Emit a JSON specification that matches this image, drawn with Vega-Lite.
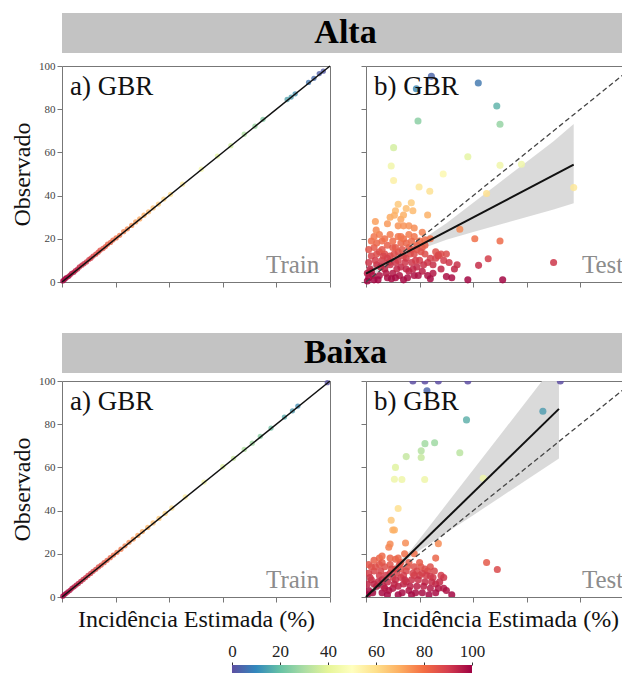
{
  "$schema": "https://vega.github.io/schema/vega-lite/v6.json",
  "padding": {"left": 10, "top": 13, "right": 0, "bottom": 0},
  "config": {
    "font": "Liberation Serif",
    "view": {"stroke": "#777", "strokeWidth": 1},
    "axis": {"grid": false, "domain": false, "tickColor": "#777", "tickSize": 5, "labelColor": "#444", "labelFontSize": 11, "labelPadding": 2, "titleFontWeight": "normal", "titleFontSize": 24, "titleColor": "#111"}
  },
  "datasets": {
    "idt": [{"Estimado": 0, "Observado": 0}, {"Estimado": 100, "Observado": 100}],
    "regA": [{"Estimado": 0, "Observado": 3.9}, {"Estimado": 77.5, "Observado": 54.3}],
    "regB": [{"Estimado": 0, "Observado": 0}, {"Estimado": 72, "Observado": 87.1}],
    "bandA": [
      {"Estimado": 0, "Observado": 1.4, "Superior": 6.4},
      {"Estimado": 10, "Observado": 8.6, "Superior": 12.2},
      {"Estimado": 18, "Observado": 14.1, "Superior": 17.1},
      {"Estimado": 30, "Observado": 19.6, "Superior": 27.2},
      {"Estimado": 40, "Observado": 23.1, "Superior": 36.7},
      {"Estimado": 50, "Observado": 26.6, "Superior": 46.2},
      {"Estimado": 60, "Observado": 30.1, "Superior": 55.7},
      {"Estimado": 70, "Observado": 33.6, "Superior": 65.2},
      {"Estimado": 77.5, "Observado": 36.5, "Superior": 73.2}
    ],
    "bandB": [
      {"Estimado": 0, "Observado": -2.5, "Superior": 2.5},
      {"Estimado": 10, "Observado": 10.3, "Superior": 13.9},
      {"Estimado": 17, "Observado": 19.1, "Superior": 22.1},
      {"Estimado": 30, "Observado": 29.7, "Superior": 42.9},
      {"Estimado": 40, "Observado": 37.9, "Superior": 58.9},
      {"Estimado": 50, "Observado": 46.1, "Superior": 74.9},
      {"Estimado": 60, "Observado": 54.3, "Superior": 90.9},
      {"Estimado": 72, "Observado": 64.1, "Superior": 110.1}
    ],
    "trA": [
      {"Estimado": 0.3, "Observado": 0.5}, {"Estimado": 0.8, "Observado": 1}, {"Estimado": 1.2, "Observado": 1.5}, {"Estimado": 1.6, "Observado": 2}, {"Estimado": 2.4, "Observado": 2.5}, {"Estimado": 3, "Observado": 3.2}, {"Estimado": 3.6, "Observado": 4}, {"Estimado": 4.4, "Observado": 4.5}, {"Estimado": 5, "Observado": 5.3}, {"Estimado": 5.8, "Observado": 6}, {"Estimado": 6.5, "Observado": 7}, {"Estimado": 7.4, "Observado": 7.8}, {"Estimado": 8.2, "Observado": 8.5}, {"Estimado": 9.1, "Observado": 9.3}, {"Estimado": 10, "Observado": 10.4}, {"Estimado": 10.8, "Observado": 11}, {"Estimado": 11.6, "Observado": 12}, {"Estimado": 12.6, "Observado": 12.9}, {"Estimado": 13.5, "Observado": 13.8}, {"Estimado": 14.2, "Observado": 14.7}, {"Estimado": 15.3, "Observado": 15.5}, {"Estimado": 16.2, "Observado": 16.4}, {"Estimado": 17, "Observado": 17.5}, {"Estimado": 18.1, "Observado": 18.3}, {"Estimado": 19, "Observado": 19.4}, {"Estimado": 20.2, "Observado": 20.4}, {"Estimado": 21.5, "Observado": 21.6}, {"Estimado": 23, "Observado": 23.3}, {"Estimado": 24.4, "Observado": 24.6}, {"Estimado": 26, "Observado": 26.2}, {"Estimado": 27.5, "Observado": 27.8}, {"Estimado": 29, "Observado": 29.2}, {"Estimado": 30.6, "Observado": 30.9}, {"Estimado": 32.3, "Observado": 32.5}, {"Estimado": 34, "Observado": 34.3}, {"Estimado": 36, "Observado": 36.1}, {"Estimado": 38, "Observado": 38.4}, {"Estimado": 40.5, "Observado": 40.6}, {"Estimado": 45, "Observado": 45.3}, {"Estimado": 52, "Observado": 52.2}, {"Estimado": 58, "Observado": 58.3}, {"Estimado": 63, "Observado": 63.1}, {"Estimado": 68, "Observado": 68.4}, {"Estimado": 72, "Observado": 72.1}, {"Estimado": 75, "Observado": 75.3}, {"Estimado": 84, "Observado": 84.5}, {"Estimado": 85.5, "Observado": 85.6}, {"Estimado": 87, "Observado": 87.1}, {"Estimado": 92, "Observado": 92.4}, {"Estimado": 94, "Observado": 94.3}, {"Estimado": 96, "Observado": 96.5}, {"Estimado": 97.5, "Observado": 97.6}
    ],
    "trB": [
      {"Estimado": 0.3, "Observado": 0.4}, {"Estimado": 0.9, "Observado": 1.1}, {"Estimado": 1.5, "Observado": 1.7}, {"Estimado": 2.2, "Observado": 2.4}, {"Estimado": 3, "Observado": 3.1}, {"Estimado": 3.7, "Observado": 4}, {"Estimado": 4.5, "Observado": 4.7}, {"Estimado": 5.3, "Observado": 5.5}, {"Estimado": 6.1, "Observado": 6.3}, {"Estimado": 7, "Observado": 7.2}, {"Estimado": 7.9, "Observado": 8.1}, {"Estimado": 8.8, "Observado": 9}, {"Estimado": 9.7, "Observado": 10}, {"Estimado": 10.7, "Observado": 10.9}, {"Estimado": 11.6, "Observado": 11.9}, {"Estimado": 12.6, "Observado": 12.8}, {"Estimado": 13.6, "Observado": 13.9}, {"Estimado": 14.6, "Observado": 14.8}, {"Estimado": 15.7, "Observado": 15.9}, {"Estimado": 16.8, "Observado": 17}, {"Estimado": 18, "Observado": 18.2}, {"Estimado": 19.2, "Observado": 19.4}, {"Estimado": 20.5, "Observado": 20.7}, {"Estimado": 22, "Observado": 22.1}, {"Estimado": 23.5, "Observado": 23.7}, {"Estimado": 25, "Observado": 25.3}, {"Estimado": 26.6, "Observado": 26.8}, {"Estimado": 28.3, "Observado": 28.5}, {"Estimado": 30, "Observado": 30.3}, {"Estimado": 32, "Observado": 32.2}, {"Estimado": 34, "Observado": 34.3}, {"Estimado": 36.2, "Observado": 36.4}, {"Estimado": 38.5, "Observado": 38.7}, {"Estimado": 41, "Observado": 41.2}, {"Estimado": 46, "Observado": 46.3}, {"Estimado": 53, "Observado": 53.2}, {"Estimado": 60, "Observado": 60.3}, {"Estimado": 64, "Observado": 64.2}, {"Estimado": 68, "Observado": 68.3}, {"Estimado": 71, "Observado": 71.2}, {"Estimado": 74, "Observado": 74.4}, {"Estimado": 78, "Observado": 78.2}, {"Estimado": 83, "Observado": 83.3}, {"Estimado": 86, "Observado": 86.2}, {"Estimado": 88, "Observado": 88.4}, {"Estimado": 99, "Observado": 99.2}
    ],
    "teA": [
      {"Estimado": 1, "Observado": 2}, {"Estimado": 2, "Observado": 5}, {"Estimado": 3, "Observado": 1}, {"Estimado": 4, "Observado": 8}, {"Estimado": 5, "Observado": 3}, {"Estimado": 6, "Observado": 10}, {"Estimado": 7, "Observado": 6}, {"Estimado": 8, "Observado": 2}, {"Estimado": 9, "Observado": 12}, {"Estimado": 10, "Observado": 4}, {"Estimado": 11, "Observado": 9}, {"Estimado": 12, "Observado": 14}, {"Estimado": 13, "Observado": 7}, {"Estimado": 14, "Observado": 1}, {"Estimado": 15, "Observado": 11}, {"Estimado": 16, "Observado": 5}, {"Estimado": 17, "Observado": 15}, {"Estimado": 18, "Observado": 3}, {"Estimado": 2, "Observado": 12}, {"Estimado": 3, "Observado": 16}, {"Estimado": 4, "Observado": 18}, {"Estimado": 5, "Observado": 14}, {"Estimado": 6, "Observado": 19}, {"Estimado": 7, "Observado": 13}, {"Estimado": 8, "Observado": 17}, {"Estimado": 9, "Observado": 8}, {"Estimado": 10, "Observado": 16}, {"Estimado": 11, "Observado": 2}, {"Estimado": 12, "Observado": 10}, {"Estimado": 13, "Observado": 18}, {"Estimado": 14, "Observado": 12}, {"Estimado": 15, "Observado": 6}, {"Estimado": 16, "Observado": 16}, {"Estimado": 17, "Observado": 9}, {"Estimado": 18, "Observado": 13}, {"Estimado": 19, "Observado": 7}, {"Estimado": 1, "Observado": 9}, {"Estimado": 0.5, "Observado": 4}, {"Estimado": 20, "Observado": 10}, {"Estimado": 21, "Observado": 5}, {"Estimado": 22, "Observado": 13}, {"Estimado": 23, "Observado": 3}, {"Estimado": 24, "Observado": 11}, {"Estimado": 25, "Observado": 8}, {"Estimado": 26, "Observado": 14}, {"Estimado": 27, "Observado": 12}, {"Estimado": 28, "Observado": 6}, {"Estimado": 29, "Observado": 10}, {"Estimado": 30, "Observado": 13}, {"Estimado": 31, "Observado": 9}, {"Estimado": 33, "Observado": 6}, {"Estimado": 19, "Observado": 17}, {"Estimado": 20, "Observado": 19}, {"Estimado": 21, "Observado": 16}, {"Estimado": 14, "Observado": 20}, {"Estimado": 12, "Observado": 21}, {"Estimado": 16, "Observado": 22}, {"Estimado": 9, "Observado": 22}, {"Estimado": 5, "Observado": 22}, {"Estimado": 18, "Observado": 21},
      {"Estimado": 0.5, "Observado": 0.5}, {"Estimado": 1.5, "Observado": 6}, {"Estimado": 2.5, "Observado": 3}, {"Estimado": 3.5, "Observado": 10}, {"Estimado": 4.5, "Observado": 1}, {"Estimado": 5.5, "Observado": 7}, {"Estimado": 6.5, "Observado": 12}, {"Estimado": 7.5, "Observado": 4}, {"Estimado": 8.5, "Observado": 9}, {"Estimado": 9.5, "Observado": 1.5}, {"Estimado": 10.5, "Observado": 13}, {"Estimado": 11.5, "Observado": 6}, {"Estimado": 12.5, "Observado": 3}, {"Estimado": 13.5, "Observado": 15}, {"Estimado": 14.5, "Observado": 9}, {"Estimado": 15.5, "Observado": 2}, {"Estimado": 16.5, "Observado": 13}, {"Estimado": 17.5, "Observado": 6}, {"Estimado": 18.5, "Observado": 10}, {"Estimado": 19.5, "Observado": 3}, {"Estimado": 20.5, "Observado": 14}, {"Estimado": 21.5, "Observado": 8}, {"Estimado": 1, "Observado": 15}, {"Estimado": 2, "Observado": 19}, {"Estimado": 3, "Observado": 21}, {"Estimado": 4, "Observado": 13}, {"Estimado": 6, "Observado": 15}, {"Estimado": 7, "Observado": 20}, {"Estimado": 8, "Observado": 11}, {"Estimado": 10, "Observado": 19}, {"Estimado": 11, "Observado": 16}, {"Estimado": 13, "Observado": 21}, {"Estimado": 15, "Observado": 18}, {"Estimado": 17, "Observado": 19}, {"Estimado": 19, "Observado": 15}, {"Estimado": 22, "Observado": 17}, {"Estimado": 23, "Observado": 9}, {"Estimado": 25, "Observado": 4}, {"Estimado": 26, "Observado": 11}, {"Estimado": 28, "Observado": 13},
      {"Estimado": 24, "Observado": 1.5}, {"Estimado": 32, "Observado": 2}, {"Estimado": 30, "Observado": 2.5}, {"Estimado": 38, "Observado": 1}, {"Estimado": 51, "Observado": 1}, {"Estimado": 34, "Observado": 8}, {"Estimado": 42, "Observado": 7.7}, {"Estimado": 45.6, "Observado": 10.8}, {"Estimado": 70, "Observado": 9}, {"Estimado": 27, "Observado": 12.5},
      {"Estimado": 3.8, "Observado": 24}, {"Estimado": 3.5, "Observado": 28}, {"Estimado": 8, "Observado": 27}, {"Estimado": 9, "Observado": 30}, {"Estimado": 11, "Observado": 33}, {"Estimado": 12, "Observado": 36}, {"Estimado": 13, "Observado": 29}, {"Estimado": 14, "Observado": 31}, {"Estimado": 15, "Observado": 34}, {"Estimado": 16.9, "Observado": 36.7}, {"Estimado": 10.6, "Observado": 30.9}, {"Estimado": 12, "Observado": 26}, {"Estimado": 14, "Observado": 26}, {"Estimado": 16, "Observado": 26}, {"Estimado": 18, "Observado": 25}, {"Estimado": 21, "Observado": 23}, {"Estimado": 23, "Observado": 31}, {"Estimado": 35, "Observado": 24.4}, {"Estimado": 40.6, "Observado": 20}, {"Estimado": 50, "Observado": 19}, {"Estimado": 24, "Observado": 20}, {"Estimado": 22, "Observado": 19.5}, {"Estimado": 17.5, "Observado": 33},
      {"Estimado": 10.3, "Observado": 62.2}, {"Estimado": 9.4, "Observado": 53.7}, {"Estimado": 10.3, "Observado": 47}, {"Estimado": 38, "Observado": 58}, {"Estimado": 28.8, "Observado": 50}, {"Estimado": 50, "Observado": 54}, {"Estimado": 58, "Observado": 54.5}, {"Estimado": 77.5, "Observado": 43.7}, {"Estimado": 19.8, "Observado": 44}, {"Estimado": 23.8, "Observado": 42}, {"Estimado": 45, "Observado": 41},
      {"Estimado": 41.9, "Observado": 92.1}, {"Estimado": 48.8, "Observado": 81.5}, {"Estimado": 50, "Observado": 73}, {"Estimado": 19.4, "Observado": 74.5}, {"Estimado": 24.4, "Observado": 95.2}, {"Estimado": 18.8, "Observado": 89.5}
    ],
    "teB": [
      {"Estimado": 17.5, "Observado": 100}, {"Estimado": 22, "Observado": 100}, {"Estimado": 27, "Observado": 100}, {"Estimado": 38, "Observado": 100}, {"Estimado": 72.5, "Observado": 100},
      {"Estimado": 22.75, "Observado": 95.5}, {"Estimado": 37.5, "Observado": 82}, {"Estimado": 66, "Observado": 86},
      {"Estimado": 20.6, "Observado": 67.7}, {"Estimado": 20.6, "Observado": 64.6}, {"Estimado": 25.6, "Observado": 71.4}, {"Estimado": 15, "Observado": 65}, {"Estimado": 35, "Observado": 66.8}, {"Estimado": 22, "Observado": 71},
      {"Estimado": 11, "Observado": 60}, {"Estimado": 10.6, "Observado": 54.5}, {"Estimado": 13.4, "Observado": 54.4}, {"Estimado": 21.9, "Observado": 54.4}, {"Estimado": 43.75, "Observado": 55},
      {"Estimado": 12, "Observado": 41}, {"Estimado": 9.4, "Observado": 35.5}, {"Estimado": 10, "Observado": 31}, {"Estimado": 10.6, "Observado": 31}, {"Estimado": 8.5, "Observado": 23}, {"Estimado": 9, "Observado": 24.5}, {"Estimado": 14.75, "Observado": 25}, {"Estimado": 27, "Observado": 24.7}, {"Estimado": 26, "Observado": 18}, {"Estimado": 11, "Observado": 17.5}, {"Estimado": 14.4, "Observado": 20}, {"Estimado": 18, "Observado": 20}, {"Estimado": 13, "Observado": 16}, {"Estimado": 5, "Observado": 18}, {"Estimado": 6, "Observado": 16},
      {"Estimado": 45, "Observado": 16}, {"Estimado": 49, "Observado": 12.7},
      {"Estimado": 1, "Observado": 3}, {"Estimado": 2, "Observado": 8}, {"Estimado": 3, "Observado": 12}, {"Estimado": 4, "Observado": 5}, {"Estimado": 5, "Observado": 10}, {"Estimado": 6, "Observado": 2}, {"Estimado": 7, "Observado": 14}, {"Estimado": 8, "Observado": 7}, {"Estimado": 9, "Observado": 11}, {"Estimado": 10, "Observado": 4}, {"Estimado": 11, "Observado": 13}, {"Estimado": 12, "Observado": 1}, {"Estimado": 13, "Observado": 9}, {"Estimado": 14, "Observado": 6}, {"Estimado": 15, "Observado": 12}, {"Estimado": 16, "Observado": 3}, {"Estimado": 17, "Observado": 8}, {"Estimado": 18, "Observado": 14}, {"Estimado": 19, "Observado": 5}, {"Estimado": 20, "Observado": 10}, {"Estimado": 21, "Observado": 2}, {"Estimado": 22, "Observado": 7}, {"Estimado": 23, "Observado": 12}, {"Estimado": 24, "Observado": 4}, {"Estimado": 25, "Observado": 9}, {"Estimado": 2, "Observado": 14}, {"Estimado": 1, "Observado": 11}, {"Estimado": 3, "Observado": 6}, {"Estimado": 5, "Observado": 15}, {"Estimado": 8, "Observado": 1}, {"Estimado": 11, "Observado": 8}, {"Estimado": 14, "Observado": 10}, {"Estimado": 17, "Observado": 1}, {"Estimado": 19, "Observado": 12}, {"Estimado": 22, "Observado": 13}, {"Estimado": 0.5, "Observado": 1}, {"Estimado": 6, "Observado": 8}, {"Estimado": 9, "Observado": 15}, {"Estimado": 12, "Observado": 5}, {"Estimado": 15, "Observado": 7}, {"Estimado": 18, "Observado": 10}, {"Estimado": 21, "Observado": 11}, {"Estimado": 24, "Observado": 14}, {"Estimado": 26, "Observado": 6}, {"Estimado": 28, "Observado": 10}, {"Estimado": 7, "Observado": 4}, {"Estimado": 10, "Observado": 9}, {"Estimado": 13, "Observado": 13},
      {"Estimado": 0.5, "Observado": 6}, {"Estimado": 1.5, "Observado": 9}, {"Estimado": 2.5, "Observado": 2}, {"Estimado": 3.5, "Observado": 14}, {"Estimado": 4.5, "Observado": 7}, {"Estimado": 5.5, "Observado": 12}, {"Estimado": 6.5, "Observado": 5}, {"Estimado": 7.5, "Observado": 10}, {"Estimado": 8.5, "Observado": 3}, {"Estimado": 9.5, "Observado": 13}, {"Estimado": 10.5, "Observado": 6}, {"Estimado": 11.5, "Observado": 11}, {"Estimado": 12.5, "Observado": 15}, {"Estimado": 13.5, "Observado": 2}, {"Estimado": 14.5, "Observado": 8}, {"Estimado": 15.5, "Observado": 14}, {"Estimado": 16.5, "Observado": 5}, {"Estimado": 17.5, "Observado": 11}, {"Estimado": 18.5, "Observado": 2}, {"Estimado": 19.5, "Observado": 8}, {"Estimado": 20.5, "Observado": 14}, {"Estimado": 21.5, "Observado": 5}, {"Estimado": 22.5, "Observado": 10}, {"Estimado": 23.5, "Observado": 1}, {"Estimado": 24.5, "Observado": 7}, {"Estimado": 25.5, "Observado": 12}, {"Estimado": 27, "Observado": 4}, {"Estimado": 29, "Observado": 9}, {"Estimado": 3, "Observado": 17}, {"Estimado": 6, "Observado": 19}, {"Estimado": 9, "Observado": 18}, {"Estimado": 12, "Observado": 18}, {"Estimado": 16, "Observado": 16}, {"Estimado": 20, "Observado": 16}, {"Estimado": 1, "Observado": 15},
      {"Estimado": 27.5, "Observado": 7}, {"Estimado": 32, "Observado": 1}, {"Estimado": 29, "Observado": 4}, {"Estimado": 24, "Observado": 9.6}, {"Estimado": 30, "Observado": 3}, {"Estimado": 26, "Observado": 2}
    ]
  },
  "vconcat": [
    {
      "spacing": 6,
      "vconcat": [
        {
          "width": 567, "height": 40,
          "view": {"fill": "#c3c3c3", "stroke": null},
          "data": {"values": [{"grupo": "Alta"}]},
          "mark": {"type": "text", "fontSize": 34, "fontWeight": "bold", "color": "#000"},
          "encoding": {"text": {"field": "grupo"}}
        },
        {
          "spacing": 26,
          "hconcat": [
            {
              "width": 268, "height": 216,
              "layer": [
                {
                  "encoding": {
                    "x": {"field": "Estimado", "type": "quantitative", "scale": {"domain": [0, 100], "nice": false}, "axis": {"labels": false, "values": [0, 20, 40, 60, 80, 100], "title": null}},
                    "y": {"field": "Observado", "type": "quantitative", "scale": {"domain": [0, 100], "nice": false}, "axis": {"values": [0, 20, 40, 60, 80, 100], "title": "Observado", "titlePadding": 4}}
                  },
                  "layer": [
                    {"data": {"name": "trA"}, "mark": {"type": "circle", "size": 28, "opacity": 0.8}, "encoding": {"color": {"field": "Observado", "type": "quantitative", "scale": {"scheme": "spectral", "domain": [0, 100]}, "legend": null}}},
                    {"data": {"name": "idt"}, "mark": {"type": "line", "color": "#111", "strokeWidth": 1.5}, "encoding": {}}
                  ]
                },
                {"data": {"values": [{"rotulo": "a) GBR"}]}, "mark": {"type": "text", "align": "left", "baseline": "middle", "fontSize": 27, "color": "#111"}, "encoding": {"x": {"datum": 3, "type": "quantitative", "axis": {"labels": false, "values": [0, 20, 40, 60, 80, 100], "title": null}}, "y": {"datum": 90.5, "type": "quantitative", "axis": {"values": [0, 20, 40, 60, 80, 100], "title": "Observado", "titlePadding": 4}}, "text": {"field": "rotulo"}}},
                {"data": {"values": [{"rotulo": "Train"}]}, "mark": {"type": "text", "align": "right", "baseline": "alphabetic", "fontSize": 25, "color": "#8c8c8c"}, "encoding": {"x": {"datum": 96, "type": "quantitative", "axis": {"labels": false, "values": [0, 20, 40, 60, 80, 100], "title": null}}, "y": {"datum": 4, "type": "quantitative", "axis": {"values": [0, 20, 40, 60, 80, 100], "title": "Observado", "titlePadding": 4}}, "text": {"field": "rotulo"}}}
              ]
            },
            {
              "width": 268, "height": 216,
              "layer": [
                {
                  "encoding": {
                    "x": {"field": "Estimado", "type": "quantitative", "scale": {"domain": [0, 100], "nice": false}, "axis": {"labels": false, "values": [0, 20, 40, 60, 80, 100], "title": null}},
                    "y": {"field": "Observado", "type": "quantitative", "scale": {"domain": [0, 100], "nice": false}, "axis": {"labels": false, "values": [0, 20, 40, 60, 80, 100], "title": null}}
                  },
                  "layer": [
                    {"data": {"name": "bandA"}, "mark": {"type": "area", "color": "#d6d6d6", "opacity": 0.9, "clip": true}, "encoding": {"y2": {"field": "Superior"}}},
                    {"data": {"name": "teA"}, "mark": {"type": "circle", "size": 50, "opacity": 0.85}, "encoding": {"color": {"field": "Observado", "type": "quantitative", "scale": {"scheme": "spectral", "domain": [0, 100]}, "legend": null}}},
                    {"data": {"name": "idt"}, "mark": {"type": "line", "color": "#444", "strokeWidth": 1.3, "strokeDash": [5, 3]}, "encoding": {}},
                    {"data": {"name": "regA"}, "mark": {"type": "line", "color": "#111", "strokeWidth": 2}, "encoding": {}}
                  ]
                },
                {"data": {"values": [{"rotulo": "b) GBR"}]}, "mark": {"type": "text", "align": "left", "baseline": "middle", "fontSize": 27, "color": "#111"}, "encoding": {"x": {"datum": 3, "type": "quantitative", "axis": {"labels": false, "values": [0, 20, 40, 60, 80, 100], "title": null}}, "y": {"datum": 90.5, "type": "quantitative", "axis": {"labels": false, "values": [0, 20, 40, 60, 80, 100], "title": null}}, "text": {"field": "rotulo"}}},
                {"data": {"values": [{"rotulo": "Test"}]}, "mark": {"type": "text", "align": "right", "baseline": "alphabetic", "fontSize": 25, "color": "#8c8c8c"}, "encoding": {"x": {"datum": 96, "type": "quantitative", "axis": {"labels": false, "values": [0, 20, 40, 60, 80, 100], "title": null}}, "y": {"datum": 4, "type": "quantitative", "axis": {"labels": false, "values": [0, 20, 40, 60, 80, 100], "title": null}}, "text": {"field": "rotulo"}}}
              ]
            }
          ]
        }
      ]
    },
    {
      "spacing": 10,
      "vconcat": [
        {
          "spacing": 1,
          "vconcat": [
            {
              "width": 567, "height": 40,
              "view": {"fill": "#c3c3c3", "stroke": null},
              "data": {"values": [{"grupo": "Baixa"}]},
              "mark": {"type": "text", "fontSize": 34, "fontWeight": "bold", "color": "#000"},
              "encoding": {"text": {"field": "grupo"}}
            },
            {
              "spacing": 26,
              "hconcat": [
                {
                  "width": 268, "height": 216,
                  "layer": [
                    {
                      "encoding": {
                        "x": {"field": "Estimado", "type": "quantitative", "scale": {"domain": [0, 100], "nice": false}, "axis": {"labels": false, "values": [0, 20, 40, 60, 80, 100], "title": "Incidência Estimada (%)", "titlePadding": 5}},
                        "y": {"field": "Observado", "type": "quantitative", "scale": {"domain": [0, 100], "nice": false}, "axis": {"values": [0, 20, 40, 60, 80, 100], "title": "Observado", "titlePadding": 4}}
                      },
                      "layer": [
                        {"data": {"name": "trB"}, "mark": {"type": "circle", "size": 28, "opacity": 0.8}, "encoding": {"color": {"field": "Observado", "type": "quantitative", "scale": {"scheme": "spectral", "domain": [0, 100]}, "legend": null}}},
                        {"data": {"name": "idt"}, "mark": {"type": "line", "color": "#111", "strokeWidth": 1.5}, "encoding": {}}
                      ]
                    },
                    {"data": {"values": [{"rotulo": "a) GBR"}]}, "mark": {"type": "text", "align": "left", "baseline": "middle", "fontSize": 27, "color": "#111"}, "encoding": {"x": {"datum": 3, "type": "quantitative", "axis": {"labels": false, "values": [0, 20, 40, 60, 80, 100], "title": "Incidência Estimada (%)", "titlePadding": 5}}, "y": {"datum": 90.5, "type": "quantitative", "axis": {"values": [0, 20, 40, 60, 80, 100], "title": "Observado", "titlePadding": 4}}, "text": {"field": "rotulo"}}},
                    {"data": {"values": [{"rotulo": "Train"}]}, "mark": {"type": "text", "align": "right", "baseline": "alphabetic", "fontSize": 25, "color": "#8c8c8c"}, "encoding": {"x": {"datum": 96, "type": "quantitative", "axis": {"labels": false, "values": [0, 20, 40, 60, 80, 100], "title": "Incidência Estimada (%)", "titlePadding": 5}}, "y": {"datum": 4, "type": "quantitative", "axis": {"values": [0, 20, 40, 60, 80, 100], "title": "Observado", "titlePadding": 4}}, "text": {"field": "rotulo"}}}
                  ]
                },
                {
                  "width": 268, "height": 216,
                  "layer": [
                    {
                      "encoding": {
                        "x": {"field": "Estimado", "type": "quantitative", "scale": {"domain": [0, 100], "nice": false}, "axis": {"labels": false, "values": [0, 20, 40, 60, 80, 100], "title": "Incidência Estimada (%)", "titlePadding": 5}},
                        "y": {"field": "Observado", "type": "quantitative", "scale": {"domain": [0, 100], "nice": false}, "axis": {"labels": false, "values": [0, 20, 40, 60, 80, 100], "title": null}}
                      },
                      "layer": [
                        {"data": {"name": "bandB"}, "mark": {"type": "area", "color": "#d6d6d6", "opacity": 0.9, "clip": true}, "encoding": {"y2": {"field": "Superior"}}},
                        {"data": {"name": "teB"}, "mark": {"type": "circle", "size": 50, "opacity": 0.85, "clip": true}, "encoding": {"color": {"field": "Observado", "type": "quantitative", "scale": {"scheme": "spectral", "domain": [0, 100]}, "legend": null}}},
                        {"data": {"name": "idt"}, "mark": {"type": "line", "color": "#444", "strokeWidth": 1.3, "strokeDash": [5, 3]}, "encoding": {}},
                        {"data": {"name": "regB"}, "mark": {"type": "line", "color": "#111", "strokeWidth": 2}, "encoding": {}}
                      ]
                    },
                    {"data": {"values": [{"rotulo": "b) GBR"}]}, "mark": {"type": "text", "align": "left", "baseline": "middle", "fontSize": 27, "color": "#111"}, "encoding": {"x": {"datum": 3, "type": "quantitative", "axis": {"labels": false, "values": [0, 20, 40, 60, 80, 100], "title": "Incidência Estimada (%)", "titlePadding": 5}}, "y": {"datum": 90.5, "type": "quantitative", "axis": {"labels": false, "values": [0, 20, 40, 60, 80, 100], "title": null}}, "text": {"field": "rotulo"}}},
                    {"data": {"values": [{"rotulo": "Test"}]}, "mark": {"type": "text", "align": "right", "baseline": "alphabetic", "fontSize": 25, "color": "#8c8c8c"}, "encoding": {"x": {"datum": 96, "type": "quantitative", "axis": {"labels": false, "values": [0, 20, 40, 60, 80, 100], "title": "Incidência Estimada (%)", "titlePadding": 5}}, "y": {"datum": 4, "type": "quantitative", "axis": {"labels": false, "values": [0, 20, 40, 60, 80, 100], "title": null}}, "text": {"field": "rotulo"}}}
                  ]
                }
              ]
            }
          ]
        },
        {
          "width": 567, "height": 14,
          "view": {"stroke": null},
          "data": {"values": [{"inicio": 0, "fim": 100}]},
          "mark": {"type": "rect", "color": {"gradient": "linear", "x1": 0, "x2": 1, "y1": 0, "y2": 0, "stops": [
            {"offset": 0, "color": "#5e4fa2"}, {"offset": 0.1, "color": "#3288bd"}, {"offset": 0.2, "color": "#66c2a5"}, {"offset": 0.3, "color": "#abdda4"}, {"offset": 0.4, "color": "#e6f598"}, {"offset": 0.5, "color": "#ffffbf"}, {"offset": 0.6, "color": "#fee08b"}, {"offset": 0.7, "color": "#fdae61"}, {"offset": 0.8, "color": "#f46d43"}, {"offset": 0.9, "color": "#d53e4f"}, {"offset": 1, "color": "#9e0142"}]}},
          "encoding": {
            "x": {"field": "inicio", "type": "quantitative", "scale": {"domain": [-70.83, 165.42], "nice": false, "zero": false}, "axis": {"orient": "top", "values": [0, 20, 40, 60, 80, 100], "domain": false, "grid": false, "tickSize": 3, "labelFontSize": 17, "labelColor": "#222", "tickColor": "#333", "title": null, "labelPadding": 2}},
            "x2": {"field": "fim"}
          }
        }
      ]
    }
  ],
  "spacing": 45
}
